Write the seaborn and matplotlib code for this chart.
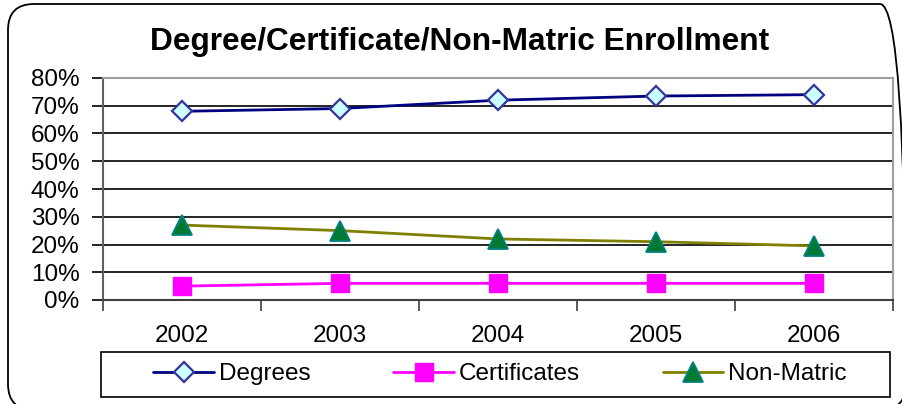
import matplotlib
matplotlib.use("Agg")
import matplotlib.pyplot as plt
from matplotlib.patches import FancyBboxPatch, Rectangle
from matplotlib.lines import Line2D
from matplotlib.ticker import FixedLocator, PercentFormatter
import seaborn as sns
import pandas as pd

years = ["2002", "2003", "2004", "2005", "2006"]
degrees = [68, 69, 72, 73.5, 74]
certificates = [5, 6, 6, 6, 6]
non_matric = [27, 25, 22, 21, 19.5]
series_names = ["Degrees", "Certificates", "Non-Matric"]
y_ticks = [0, 10, 20, 30, 40, 50, 60, 70, 80]

df = pd.DataFrame({
    "Year": years * 3,
    "Value": degrees + certificates + non_matric,
    "Series": [series_names[0]] * 5 + [series_names[1]] * 5 + [series_names[2]] * 5,
})

sns.set_style("white")
plt.rcParams["font.family"] = ["Liberation Sans", "DejaVu Sans"]
plt.rcParams["text.color"] = "black"
plt.rcParams["xtick.color"] = "black"
plt.rcParams["ytick.color"] = "black"
plt.rcParams["xtick.labelcolor"] = "black"
plt.rcParams["ytick.labelcolor"] = "black"

W, H = 902, 404
fig = plt.figure(figsize=(W / 100, H / 100), dpi=100)

# background axes in pixel coordinates (y measured upward) for frame decorations
bg = fig.add_axes([0, 0, 1, 1], zorder=-1)
bg.set_xlim(0, W)
bg.set_ylim(0, H)
bg.axis("off")
bg.add_patch(FancyBboxPatch((8, -6), W + 4 - 8, H - 4 + 6,
                            boxstyle="round,pad=0,rounding_size=26",
                            fill=False, ec="black", lw=1.3, clip_on=False))
bg.add_patch(Rectangle((101, H - 397), 789, 45, fill=False, ec="black", lw=1.2))

ax = fig.add_axes([103 / W, 1 - 300 / H, 790 / W, 222 / H])

line_colors = {"Degrees": "#000080", "Certificates": "#FF00FF", "Non-Matric": "#808000"}
sns.lineplot(data=df, x="Year", y="Value", hue="Series", style="Series",
             palette=line_colors, markers={"Degrees": "D", "Certificates": "s", "Non-Matric": "^"},
             dashes=False, linewidth=2, ax=ax, legend=False, zorder=3)

marker_styles = {
    "Degrees": dict(ms=10, mfc="#CCFFFF", mec="#333399", mew=1.6),
    "Certificates": dict(ms=13, mfc="#FF00FF", mec="#FF00FF", mew=1),
    "Non-Matric": dict(ms=14, mfc="#007A33", mec="#008080", mew=1.3),
}
for line, name in zip(ax.lines, series_names):
    st = marker_styles[name]
    line.set_markersize(st["ms"])
    line.set_markerfacecolor(st["mfc"])
    line.set_markeredgecolor(st["mec"])
    line.set_markeredgewidth(st["mew"])

ax.set_xlim(-0.5, 4.5)
ax.set_ylim(0, 80)
ax.yaxis.set_major_locator(FixedLocator(y_ticks))
ax.yaxis.set_major_formatter(PercentFormatter(decimals=0))
for yv in y_ticks[1:-1]:
    ax.axhline(yv, color="black", lw=1.2, zorder=1)
ax.set_xlabel("")
ax.set_ylabel("")

FS = 17.5
ax.xaxis.set_minor_locator(FixedLocator([-0.5, 0.5, 1.5, 2.5, 3.5, 4.5]))
ax.tick_params(axis="x", which="major", length=0, pad=18, labelsize=FS, labelcolor="black")
ax.tick_params(axis="x", which="minor", length=8, width=1.2, color="#404040", direction="out", bottom=True)
ax.tick_params(axis="y", which="major", length=8, width=1.2, color="black", pad=9,
               labelsize=FS, labelcolor="black", direction="out", left=True)

for side in ["top", "right"]:
    ax.spines[side].set_color("#A0A0A0")
    ax.spines[side].set_linewidth(1.5)
ax.spines["left"].set_color("#606060")
ax.spines["left"].set_linewidth(1.5)
ax.spines["bottom"].set_color("#404040")
ax.spines["bottom"].set_linewidth(1.5)

fig.text(460 / W, 1 - 42 / H, "Degree/Certificate/Non-Matric Enrollment",
         ha="center", va="center", fontsize=22.8, fontweight="bold", color="black")

handles = []
for line in ax.lines[:3]:
    handles.append(Line2D([], [], color=line.get_color(), lw=2,
                          marker=line.get_marker(), ms=line.get_markersize(),
                          mfc=line.get_markerfacecolor(), mec=line.get_markeredgecolor(),
                          mew=line.get_markeredgewidth()))
leg = fig.legend(handles, series_names, ncol=3, loc="center",
                 bbox_to_anchor=(500 / W, 1 - 374 / H), fontsize=FS,
                 frameon=False, handlelength=2.5, handletextpad=0.2, columnspacing=3.4,
                 labelcolor="black")

fig.savefig("out.png", dpi=100)
